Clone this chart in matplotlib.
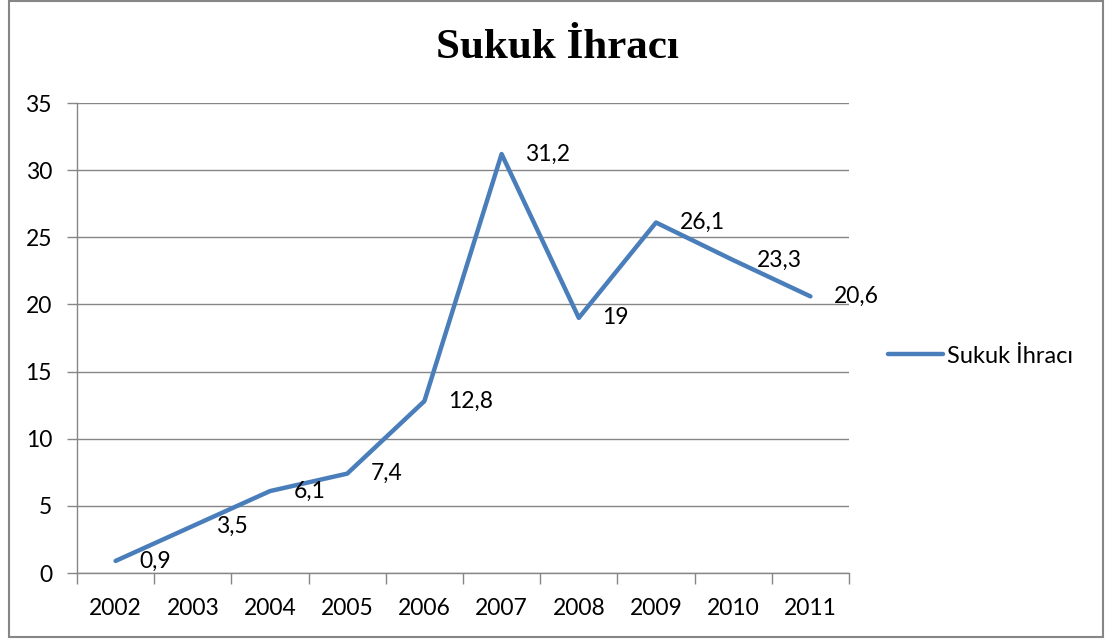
import matplotlib

matplotlib.use("Agg")
import matplotlib.pyplot as plt
from matplotlib.patches import Rectangle

years = ["2002", "2003", "2004", "2005", "2006", "2007", "2008", "2009", "2010", "2011"]
values = [0.9, 3.5, 6.1, 7.4, 12.8, 31.2, 19, 26.1, 23.3, 20.6]
labels = ["0,9", "3,5", "6,1", "7,4", "12,8", "31,2", "19", "26,1", "23,3", "20,6"]
series_name = "Sukuk İhracı"

W, H = 1105, 639
fig = plt.figure(figsize=(W / 100, H / 100), dpi=100)
plt.rcParams["font.family"] = ["Lato", "DejaVu Sans"]

# plot area in pixels: x 77..849, y 103..573
ax = fig.add_axes([77 / W, 1 - 573 / H, (849 - 77) / W, (573 - 103) / H])
grid_c = "#868686"
blue = "#4A7EBB"

xs = [i + 0.5 for i in range(len(years))]
ax.plot(xs, values, color=blue, lw=3.2, solid_capstyle="round", solid_joinstyle="round",
        label=series_name, zorder=3)
for x, v, t in zip(xs, values, labels):
    ax.annotate(t, (x, v), xytext=(17, 0), textcoords="offset points",
                ha="left", va="center", fontsize=16.5, color="black", zorder=4)

ax.set_xlim(0, 10)
ax.set_ylim(0, 35)
ax.set_yticks(range(0, 36, 5))
ax.yaxis.grid(True, color=grid_c, lw=1)
ax.set_axisbelow(True)
ax.set_xticks(range(0, 11))
ax.set_xticklabels([])
ax.set_xticks(xs, minor=True)
ax.set_xticklabels(years, minor=True)
ax.tick_params(axis="x", which="major", length=8, color=grid_c, width=1)
ax.tick_params(axis="x", which="minor", length=0, pad=18, labelsize=16.5)
ax.tick_params(axis="y", length=7, color=grid_c, width=1, labelsize=16.5, pad=11)
for s in ["top", "right"]:
    ax.spines[s].set_visible(False)
for s in ["left", "bottom"]:
    ax.spines[s].set_color(grid_c)
    ax.spines[s].set_linewidth(1)

fig.text(557 / W, 1 - 48 / H, "Sukuk İhracı", ha="center", va="center",
         family="Liberation Serif", fontweight="bold", fontsize=31)

ax.legend(loc="center left", bbox_to_anchor=(888 / W, 1 - 356 / H),
          bbox_transform=fig.transFigure, frameon=False, fontsize=17,
          handlelength=2.35, handletextpad=0.13, borderaxespad=0, borderpad=0)

# outer chart frame
fig.patches.append(Rectangle((8.5 / W, 2 / H), (1103 - 8.5) / W, (638.5 - 2) / H,
                             transform=fig.transFigure, fill=False,
                             edgecolor=grid_c, lw=1.5))

fig.savefig("out.png", dpi=100)
